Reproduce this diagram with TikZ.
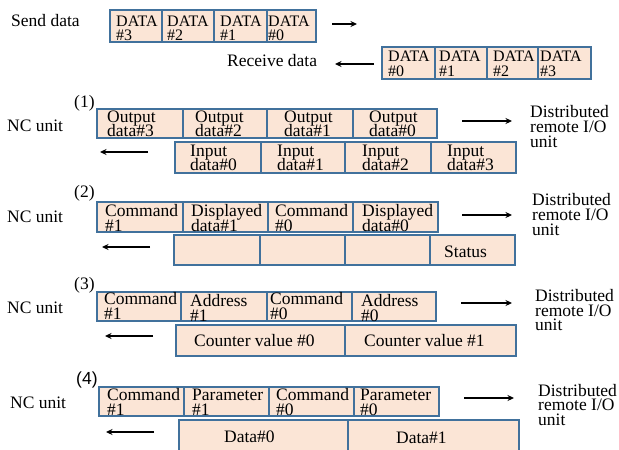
\documentclass[tikz,border=0pt]{standalone}
\usepackage{fontspec}
\setmainfont{Liberation Serif}
\newfontfamily\labsans{Liberation Sans}
\usetikzlibrary{arrows.meta}

\definecolor{cellfill}{HTML}{FBE5D6}
\definecolor{cellline}{HTML}{41719C}

% two or three lines with a fixed, tight line pitch; baseline = first line
\newcommand\stackii[3]{\vtop{\baselineskip=#1pt\lineskiplimit=-30pt\lineskip=0pt\hbox{#2}\hbox{#3}}}
\newcommand\stackiii[4]{\vtop{\baselineskip=#1pt\lineskiplimit=-30pt\lineskip=0pt\hbox{#2}\hbox{#3}\hbox{#4}}}

% frame cell: name, left, right, top, bottom
\newcommand\cellbox[5]{%
  \node[cbox, minimum width={(#3-#2)*1pt}, minimum height={(#5-#4)*1pt}]
    (#1) at ({(#2+#3)/2},{(#4+#5)/2}) {};}

\tikzset{
  cbox/.style={draw=cellline, fill=cellfill, line width=1.1pt, inner sep=0pt, outer sep=0pt},
  ctext/.style={anchor=base west, inner sep=0pt, font=\fontsize{17.5}{17.5}\selectfont},
  dtext/.style={ctext, font=\fontsize{16}{16}\selectfont},
  lbl/.style={anchor=base west, inner sep=0pt, font=\fontsize{17.5}{17.5}\selectfont},
  arr/.style={-{Stealth[length=6.5pt,width=6pt]}, line width=1.8pt},
}

\begin{document}
\begin{tikzpicture}[x=1pt,y=-1pt]
\useasboundingbox (0,0) rectangle (619,450);

% ---------- send / receive frame ----------
\node[lbl] (send) at (11,26) {Send data};
\cellbox{s3}{110}{162}{10}{42}
\cellbox{s2}{162}{214}{10}{42}
\cellbox{s1}{214}{267}{10}{42}
\cellbox{s0}{267}{316}{10}{42}
\node[dtext] (s3t) at (116,26) {\stackii{14}{DATA}{\#3}};
\node[dtext] (s2t) at (167,26) {\stackii{14}{DATA}{\#2}};
\node[dtext] (s1t) at (220,26) {\stackii{14}{DATA}{\#1}};
\node[dtext] (s0t) at (268,26) {\stackii{14}{DATA}{\#0}};
\coordinate (sa1) at (332,24);
\coordinate (sa2) at (357,24);
\draw[arr] (sa1) -- (sa2);

\node[lbl] (recv) at (227,66.5) {Receive data};
\coordinate (ra1) at (374,64);
\coordinate (ra2) at (335,64);
\draw[arr] (ra1) -- (ra2);
\cellbox{r0}{382}{435}{47}{79}
\cellbox{r1}{435}{487}{47}{79}
\cellbox{r2}{487}{538}{47}{79}
\cellbox{r3}{538}{591}{47}{79}
\node[dtext] (r0t) at (388,61) {\stackii{15}{DATA}{\#0}};
\node[dtext] (r1t) at (439,61) {\stackii{15}{DATA}{\#1}};
\node[dtext] (r2t) at (493,61) {\stackii{15}{DATA}{\#2}};
\node[dtext] (r3t) at (540,61) {\stackii{15}{DATA}{\#3}};

% ---------- (1) ----------
\node[lbl] (n1) at (74,107) {(1)};
\node[lbl] (nc1) at (7,131) {NC unit};
\cellbox{a3}{97}{183}{109}{138}
\cellbox{a2}{183}{267}{109}{138}
\cellbox{a1}{267}{353}{109}{138}
\cellbox{a0}{353}{437}{109}{138}
\node[ctext] (a3t) at (107,122.3) {\stackii{14.4}{Output}{data\#3}};
\node[ctext] (a2t) at (195,122.3) {\stackii{14.4}{Output}{data\#2}};
\node[ctext] (a1t) at (284,122.3) {\stackii{14.4}{Output}{data\#1}};
\node[ctext] (a0t) at (369,122.3) {\stackii{14.4}{Output}{data\#0}};
\cellbox{b0}{175}{261}{142}{173}
\cellbox{b1}{261}{345}{142}{173}
\cellbox{b2}{345}{431}{142}{173}
\cellbox{b3}{431}{516}{142}{173}
\node[ctext] (b0t) at (190,156) {\stackii{14.5}{Input}{data\#0}};
\node[ctext] (b1t) at (277,156) {\stackii{14.5}{Input}{data\#1}};
\node[ctext] (b2t) at (362,156) {\stackii{14.5}{Input}{data\#2}};
\node[ctext] (b3t) at (447,156) {\stackii{14.5}{Input}{data\#3}};
\coordinate (o1a) at (462,121);
\coordinate (o1b) at (512,121);
\draw[arr] (o1a) -- (o1b);
\coordinate (i1a) at (148,152);
\coordinate (i1b) at (100,152);
\draw[arr] (i1a) -- (i1b);
\node[lbl] (d1) at (530,117.5) {\stackiii{15}{Distributed}{remote I/O}{unit}};

% ---------- (2) ----------
\node[lbl] (n2) at (74,197) {(2)};
\node[lbl] (nc2) at (7,222) {NC unit};
\cellbox{c1}{97}{183}{202}{232}
\cellbox{c2}{183}{268}{202}{232}
\cellbox{c3}{268}{353}{202}{232}
\cellbox{c4}{353}{438}{202}{232}
\node[ctext] (c1t) at (105,216.5) {\stackii{15}{Command}{\#1}};
\node[ctext] (c2t) at (191,216.5) {\stackii{15}{Displayed}{data\#1}};
\node[ctext] (c3t) at (275,216.5) {\stackii{15}{Command}{\#0}};
\node[ctext] (c4t) at (362,216.5) {\stackii{15}{Displayed}{data\#0}};
\cellbox{e1}{174}{260}{235}{265}
\cellbox{e2}{260}{345}{235}{265}
\cellbox{e3}{345}{430}{235}{265}
\cellbox{e4}{430}{515}{235}{265}
\node[ctext] (e4t) at (444,257) {Status};
\coordinate (o2a) at (462,215);
\coordinate (o2b) at (512,215);
\draw[arr] (o2a) -- (o2b);
\coordinate (i2a) at (150,247);
\coordinate (i2b) at (102,247);
\draw[arr] (i2a) -- (i2b);
\node[lbl] (d2) at (532,205.5) {\stackiii{15}{Distributed}{remote I/O}{unit}};

% ---------- (3) ----------
\node[lbl] (n3) at (74,289) {(3)};
\node[lbl] (nc3) at (7,313) {NC unit};
\cellbox{f1}{97}{181}{292}{321}
\cellbox{f2}{181}{267}{292}{321}
\cellbox{f3}{267}{352}{292}{321}
\cellbox{f4}{352}{436}{292}{321}
\node[ctext] (f1t) at (104,304.5) {\stackii{15}{Command}{\#1}};
\node[ctext] (f2t) at (190,306.5) {\stackii{15}{Address}{\#1}};
\node[ctext] (f3t) at (270,304.5) {\stackii{15}{Command}{\#0}};
\node[ctext] (f4t) at (361,306.5) {\stackii{15}{Address}{\#0}};
\cellbox{g1}{176}{345}{325}{356}
\cellbox{g2}{345}{516}{325}{356}
\node[ctext] (g1t) at (194,346) {Counter value \#0};
\node[ctext] (g2t) at (364,346) {Counter value \#1};
\coordinate (o3a) at (461,303);
\coordinate (o3b) at (512,303);
\draw[arr] (o3a) -- (o3b);
\coordinate (i3a) at (153,336);
\coordinate (i3b) at (105,336);
\draw[arr] (i3a) -- (i3b);
\node[lbl] (d3) at (535,301.5) {\stackiii{14.5}{Distributed}{remote I/O}{unit}};

% ---------- (4) ----------
\node[lbl, font=\labsans\fontsize{17.5}{17.5}\selectfont] (n4) at (76,384) {(4)};
\node[lbl] (nc4) at (10,408) {NC unit};
\cellbox{h1}{99}{184}{387}{416}
\cellbox{h2}{184}{269}{387}{416}
\cellbox{h3}{269}{354}{387}{416}
\cellbox{h4}{354}{439}{387}{416}
\node[ctext] (h1t) at (107,400.5) {\stackii{15}{Command}{\#1}};
\node[ctext] (h2t) at (192,400.5) {\stackii{15}{Parameter}{\#1}};
\node[ctext] (h3t) at (276,400.5) {\stackii{15}{Command}{\#0}};
\node[ctext] (h4t) at (360,400.5) {\stackii{15}{Parameter}{\#0}};
\cellbox{k1}{179}{348}{420}{456}
\cellbox{k2}{348}{519}{420}{456}
\node[ctext] (k1t) at (224,442) {Data\#0};
\node[ctext] (k2t) at (396,443) {Data\#1};
\coordinate (o4a) at (464,398);
\coordinate (o4b) at (514,398);
\draw[arr] (o4a) -- (o4b);
\coordinate (i4a) at (154,432);
\coordinate (i4b) at (106,432);
\draw[arr] (i4a) -- (i4b);
\node[lbl] (d4) at (538,396) {\stackiii{14.5}{Distributed}{remote I/O}{unit}};
\end{tikzpicture}
\end{document}
